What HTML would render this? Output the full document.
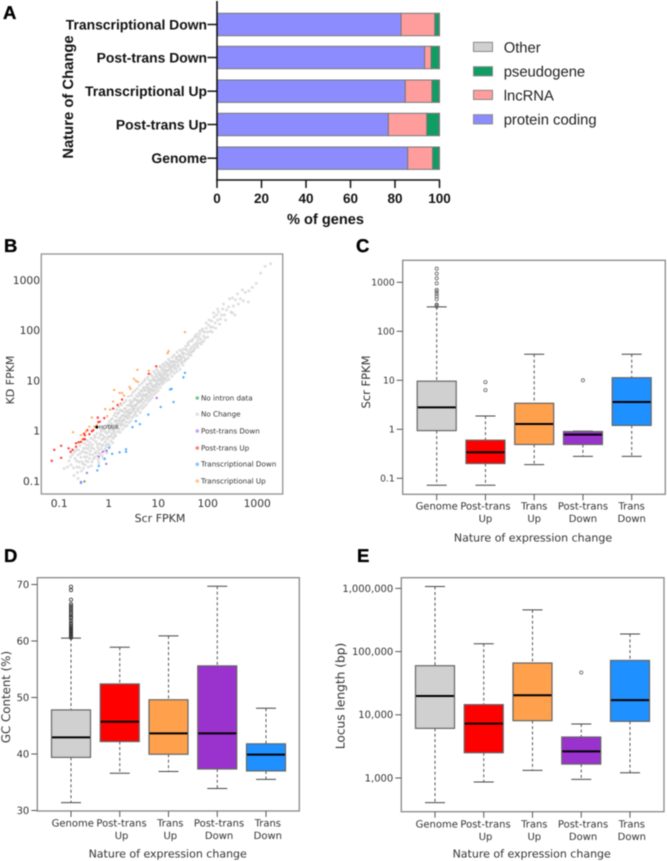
<!DOCTYPE html>
<html lang="en">
<head>
<meta charset="utf-8">
<title>Gene expression change figure</title>
<style>
html,body{margin:0;padding:0;background:#fff;}
body{width:667px;height:861px;overflow:hidden;}
svg{display:block;filter:blur(.4px);text-rendering:geometricPrecision;}
.a{font-family:"Liberation Sans",Arial,sans-serif;font-weight:bold;fill:#111;}
.v{font-family:"DejaVu Sans",Verdana,sans-serif;fill:#333;}
.p{font-family:"Liberation Sans",Arial,sans-serif;font-weight:bold;font-size:18.5px;fill:#000;stroke:#000;stroke-width:.35px;}
</style>
</head>
<body>
<svg id="figure" xmlns="http://www.w3.org/2000/svg" width="667" height="861" viewBox="0 0 667 861">
  <g id="pa"></g>
  <g id="pb"></g>
  <g id="pc"></g>
  <g id="pd"></g>
  <g id="pe"></g>
  <text class="p" x="3" y="19">A</text>
  <text class="p" x="4" y="252">B</text>
  <text class="p" x="356" y="252">C</text>
  <text class="p" x="4" y="562">D</text>
  <text class="p" x="357" y="562">E</text>
</svg>
<script>
/* ---------- Panel A data ---------- */
const aCategories = ['Transcriptional Down','Post-trans Down','Transcriptional Up','Post-trans Up','Genome'];
const aProteinCoding = [82.7,93.3,84.6,77.0,85.7];
const aLncRNA = [15.2,2.9,12.0,17.3,11.2];
const aPseudogene = [1.9,3.6,3.2,5.5,2.9];
const aOther = [0.2,0.2,0.2,0.2,0.2];
const aTicks = [0,20,40,60,80,100];
const aLegendLabels = ['Other','pseudogene','lncRNA','protein coding'];

/* ---------- Panel B data (log10 FPKM, [Scr, KD]) ---------- */
const bXTicks = [0.1,1,10,100,1000];
const bYTicks = [0.1,1,10,100,1000];
const bLegendLabels = ['No intron data','No Change','Post-trans Down','Post-trans Up','Transcriptional Down','Transcriptional Up'];
const bNoChange = [[-.83,-.72],[-.80,-.60],[-.76,-.68],[-.73,-.47],[-.70,-.89],[-.68,-.55],[-.66,-.38],[-.64,-.72],[-.62,-.48],[-.60,-.62],[-.58,-.30],[-.56,-.53],[-.55,-.80],[-.53,-.41],[-.52,-.66],[-.50,-.25],[-.49,-.52],[-.47,-.35],[-.46,-.60],[-.44,-.44],[-.43,-.20],[-.41,-.72],[-.40,-.30],[-.39,-.55],[-.37,-.40],[-.36,-.15],[-.34,-.62],[-.33,-.28],[-.32,-.48],[-.30,-.36],[-.29,-.10],[-.28,-.53],[-.26,-.22],[-.25,-.42],[-.24,-.05],[-.22,-.33],[-.21,-.58],[-.20,-.14],[-.19,-.45],[-.18,-.26],[-.16,-.02],[-.15,-.36],[-.14,-.18],[-.13,-.50],[-.12,-.09],[-.11,-.28],[-.10,.02],[-.09,-.40],[-.08,-.13],[-.07,-.22],[-.06,.07],[-.05,-.32],[-.04,-.05],[-.03,-.17],[-.02,.12],[-.01,-.26],[0,-.02],[.01,.18],[.02,-.12],[.03,.06],[.04,-.2],[.05,.14],[.06,-.05],[.07,.24],[.08,.02],[.09,-.15],[.10,.11],[.11,.3],[.12,-.06],[.13,.18],[.14,-.1],[.15,.05],[.16,.28],[.17,.1],[.18,-.02],[.19,.2],[.20,.36],[.21,.04],[.22,.14],[.23,-.03],[.24,.26],[.25,.1],[.26,.4],[.27,.18],[.28,.03],[.29,.3],[.30,.12],[.31,.22],[.32,.44],[.33,.08],[.34,.28],[.35,.17],[.36,.38],[.37,.1],[.38,.5],[.39,.24],[.40,.33],[.41,.16],[.42,.42],[.43,.28],[.44,.55],[.45,.2],[.46,.36],[.47,.48],[.48,.26],[.49,.4],[.5,.6],[.51,.3],[.52,.45],[.53,.34],[.54,.62],[.55,.38],[.56,.52],[.57,.3],[.58,.44],[.59,.68],[.6,.4],[.61,.56],[.62,.46],[.63,.72],[.64,.36],[.65,.6],[.66,.5],[.67,.78],[.68,.44],[.69,.64],[.7,.55],[.71,.82],[.72,.48],[.73,.7],[.74,.6],[.75,.86],[.76,.52],[.77,.72],[.78,.64],[.79,.9],[.8,.58],[.81,.76],[.82,.68],[.83,.94],[.84,.62],[.85,.82],[.86,.72],[.87,1.0],[.88,.66],[.89,.86],[.9,.78],[.91,1.04],[.92,.72],[.93,.9],[.94,.82],[.95,1.08],[.96,.76],[.97,.96],[.98,.86],[.99,1.12],[1.0,.8],[1.01,1.0],[1.02,.92],[1.03,1.14],[1.04,.86],[1.05,1.05],[1.06,.96],[1.07,1.2],[1.08,.92],[1.09,1.08],[1.1,1.0],[1.11,1.24],[1.12,.96],[1.13,1.14],[1.15,1.04],[1.16,1.28],[1.17,1.0],[1.18,1.18],[1.2,1.1],[1.21,1.32],[1.22,1.02],[1.24,1.22],[1.25,1.14],[1.26,1.36],[1.28,1.08],[1.29,1.26],[1.3,1.18],[1.32,1.38],[1.33,1.14],[1.34,1.3],[1.36,1.24],[1.37,1.46],[1.38,1.18],[1.4,1.36],[1.41,1.28],[1.43,1.5],[1.44,1.22],[1.45,1.4],[1.47,1.34],[1.48,1.56],[1.5,1.3],[1.52,1.46],[1.53,1.38],[1.55,1.62],[1.56,1.42],[1.58,1.52],[1.6,1.44],[1.61,1.7],[1.63,1.5],[1.65,1.62],[1.67,1.56],[1.68,1.78],[1.7,1.58],[1.72,1.7],[1.74,1.64],[1.76,1.86],[1.78,1.7],[1.8,1.8],[1.82,1.74],[1.84,1.92],[1.86,1.82],[1.88,1.76],[1.9,1.98],[1.92,1.88],[1.95,1.84],[1.97,2.04],[2.0,1.96],[2.02,2.1],[2.05,1.98],[2.08,2.18],[2.1,2.06],[2.13,2.26],[2.15,2.14],[2.18,2.3],[2.2,2.2],[2.22,2.36],[2.26,2.22],[2.3,2.42],[2.34,2.3],[2.38,2.4],[2.44,2.62],[2.47,2.36],[2.52,2.48],[2.56,2.6],[2.6,2.72],[2.66,2.62],[2.7,2.8],[2.76,2.75],[2.83,2.78],[2.82,2.56],[2.9,2.85],[2.98,2.93],[3.07,3.13],[3.16,3.27],[3.27,3.32],
[-.77,-.52],[-.71,-.74],[-.69,-.42],[-.65,-.60],[-.63,-.83],[-.61,-.38],[-.59,-.73],[-.57,-.45],[-.54,-.62],[-.51,-.35],[-.51,-.75],[-.48,-.43],[-.48,-.68],[-.45,-.28],[-.45,-.52],[-.42,-.62],[-.42,-.36],[-.38,-.24],[-.38,-.47],[-.35,-.7],[-.35,-.34],[-.31,-.18],[-.31,-.56],[-.27,-.44],[-.27,-.13],[-.23,-.5],[-.23,-.27],[-.2,-.38],[-.2,-.64],[-.17,-.08],[-.17,-.46],[-.14,-.3],[-.14,.02],[-.11,-.55],[-.11,-.16],[-.07,-.37],[-.07,-.02],[-.04,-.28],[-.04,-.44],[-.01,.06],[-.01,-.12],[.02,-.3],[.02,.02],[.05,-.1],[.05,.22],[.08,-.24],[.08,.1],[.11,-.02],[.11,-.12],
[.13,.35],[.14,.2],[.16,.42],[.17,.12],[.19,.34],[.2,.48],[.22,.24],[.23,.41],[.25,.13],[.26,.51],[.28,.39],[.29,.2],[.31,.56],[.32,.3],[.34,.44],[.35,.6],[.37,.27],[.38,.39],[.4,.68],[.41,.5],[.43,.6],[.44,.35],[.46,.7],[.47,.56],[.49,.76],[.5,.42],[.52,.64],[.53,.8],[.55,.5],[.56,.7],[.58,.84],[.59,.55],[.61,.75],[.62,.9],[.64,.58],[.65,.8],[.67,.94],[.68,.62],[.7,.86],[.71,.98],[.73,.8],[.74,1.02],[.76,.68],[.77,.92],[.79,1.06],[.8,.84],[.82,1.0],[.83,.76],[.85,1.12],[.86,.94],[.88,1.08],[.89,.8],[.91,1.18],[.92,1.0],[.94,1.14],[.95,.88],[.97,1.22],[.98,1.06],[1.0,1.18],[1.01,.92],[1.03,1.28],[1.04,1.1],[1.06,1.26],[1.07,1.0],[1.09,1.32],[1.1,1.16],[1.12,1.3],[1.13,1.04],[1.15,1.36],[1.16,1.2],[1.18,1.34],[1.19,1.08],[1.21,1.42],[1.22,1.26],[1.24,1.38],[1.26,1.2],[1.28,1.46],[1.3,1.32],[1.32,1.5],[1.34,1.24],[1.36,1.44],[1.38,1.56],[1.4,1.3],[1.42,1.48],[1.44,1.6],[1.46,1.42],[1.48,1.36],[1.5,1.62],[1.52,1.54],[1.54,1.4],[1.56,1.68],[1.58,1.6],[1.6,1.74],[1.62,1.56],[1.64,1.78],[1.66,1.5],[1.68,1.66],[1.7,1.82],[1.72,1.6],[1.74,1.88],[1.76,1.74],[1.78,1.92],[1.8,1.66],[1.82,1.86],[1.84,1.98],[1.87,1.72],[1.89,2.02],[1.92,1.78],[1.94,1.96],[1.97,2.14],[2.0,1.86],[2.03,2.2],[2.06,2.06],[2.09,1.96],[2.12,2.34],[2.16,2.04],[2.2,2.42],[2.24,2.12],[2.28,2.3],[2.32,2.52],[2.36,2.2],[2.42,2.46],[2.5,2.64],[2.55,2.3],[2.62,2.52],[2.72,2.58],[2.5,2.34],
[.0,.1],[.06,.12],[.1,.02],[.15,.2],[.18,.14],[.23,.2],[.27,.3],[.3,.22],[.33,.36],[.36,.27],[.39,.32],[.42,.36],[.45,.5],[.48,.44],[.51,.5],[.54,.5],[.57,.6],[.6,.6],[.63,.58],[.66,.68],[.69,.72],[.72,.7],[.75,.72],[.78,.8],[.81,.85],[.84,.8],[.87,.9],[.9,.88],[.93,1.0],[.96,.92],[.99,1.0],[1.02,1.02],[1.05,1.12],[1.08,1.04],[1.11,1.1],[1.14,1.2],[1.17,1.12],[1.2,1.2],[1.23,1.3],[1.26,1.28],[1.29,1.38],[1.32,1.3],[1.35,1.36],[1.38,1.42],[1.41,1.4],[1.44,1.48],[1.47,1.46],[1.5,1.52],[-.62,-.95],[-.9,-.75]];
const bPostTransUp = [[-1.15,-.60],[-1.10,-.38],[-.96,-.30],[-.96,-.54],[-.81,-.35],[-.77,-.42],[-.73,-.38],[-.66,-.32],[-.66,-.25],[-.61,-.23],[-.56,-.22],[-.51,-.17],[-.48,-.17],[-.50,-.06],[-.43,.01],[-.34,-.01],[-.31,.01],[-.39,-.07],[-.22,.26],[-.18,.18],[-.21,.17],[-.09,.25],[.09,.44],[.18,.51],[.27,.62],[.81,1.13],[.96,1.28],[-.48,-.09]];
const bTransUp = [[-.72,-.03],[-.56,-.09],[-.53,-.17],[-.58,-.23],[-.46,-.02],[-.39,.08],[-.34,.26],[-.29,.08],[-.24,.11],[-.07,.43],[.03,.42],[.09,.58],[.11,.81],[-.03,.29],[.22,.75],[.27,.75],[.31,.70],[.42,.87],[.44,.83],[.51,1.03],[.55,.99],[.59,.97],[.58,1.21],[.81,1.19],[1.19,1.54],[1.21,1.58],[1.54,1.96],[.24,.54]];
const bTransDown = [[-.56,-1.04],[-.23,-.79],[-.20,-.70],[-.08,-.56],[.01,-.34],[.07,-.46],[.22,-.43],[.35,-.37],[.35,-.42],[.48,.07],[.55,.19],[.63,.13],[.80,.32],[1.05,.47],[1.31,.57],[1.24,.82],[1.27,.83],[1.51,1.06],[1.54,1.15]];
const bPostTransDown = [[-.56,-1.02],[-.44,-.84],[-.20,-.52],[-.12,-.42],[-.04,-.40],[-.05,-.66],[.97,.65]];
const bNoIntron = [[-.49,-1.01]];
const bHotair = [-.24,.07];

/* ---------- Box plot shared categories ---------- */
const boxLine1 = ['Genome','Post-trans','Trans','Post-trans','Trans'];
const boxLine2 = ['','Up','Up','Down','Down'];

/* ---------- Panel C data ---------- */
const cTicks = [0.1,1,10,100,1000];
const cLow = [0.072,0.072,0.19,0.28,0.28];
const cQ1 = [0.94,0.2,0.49,0.49,1.2];
const cMedian = [2.8,0.34,1.28,0.78,3.6];
const cQ3 = [9.6,0.6,3.4,0.9,11.3];
const cHigh = [316,1.87,34,0.92,34];
const cOutliers = [[1900,1500,1200,950,700,650,580,520,450,350,320,340],[9.2,6.3],[],[10],[]];

/* ---------- Panel D data ---------- */
const dTicks = [30,40,50,60,70];
const dLow = [31.4,36.6,36.9,33.9,35.5];
const dQ1 = [39.4,42.2,39.95,37.35,37];
const dMedian = [42.95,45.7,43.66,43.66,39.9];
const dQ3 = [47.8,52.4,49.6,55.6,41.8];
const dHigh = [60.5,58.9,60.9,69.7,48.1];
const dOutliers = [[60.6,60.8,61,61.2,61.4,61.6,61.8,62,62.2,62.4,62.6,62.9,63.2,63.6,64,64.2,64.5,64.8,65,65.3,65.6,65.9,66.2,66.5,67.3,69,69.6],[],[],[],[]];

/* ---------- Panel E data ---------- */
const eTicks = [1000,10000,100000,1000000];
const eTickLabels = ['1,000','10,000','100,000','1,000,000'];
const eLow = [408,865,1320,950,1210];
const eQ1 = [6100,2510,8070,1660,7870];
const eMedian = [19800,7240,20400,2640,17100];
const eQ3 = [59800,14500,66000,4450,72500];
const eHigh = [1070000,133000,457000,7140,190000];
const eOutliers = [[],[],[],[46700],[]];

/* ---------- helpers ---------- */
const NS = 'http://www.w3.org/2000/svg';
function mk(parent, tag, attrs, text) {
  const el = document.createElementNS(NS, tag);
  for (const k in attrs) el.setAttribute(k, attrs[k]);
  if (text !== undefined) el.textContent = text;
  parent.appendChild(el);
  return el;
}

/* ---------- Panel A ---------- */
(function () {
  const g = document.getElementById('pa');
  const xA = v => 217 + 2.225 * v;
  const barTop = [13.3, 46.3, 80, 113.3, 147];
  const barH = 22.4;
  const fills = ['#8c8cff', '#ff9c9c', '#0f9d63', '#d0d0d0'];
  const names = ['protein-coding', 'lncrna', 'pseudogene', 'other'];
  aCategories.forEach((c, i) => {
    const parts = [aProteinCoding[i], aLncRNA[i], aPseudogene[i], aOther[i]];
    let acc = 0;
    parts.forEach((p, j) => {
      const r = mk(g, 'rect', {x: xA(acc), y: barTop[i], width: xA(acc + p) - xA(acc), height: barH, fill: fills[j], stroke: '#777', 'stroke-width': 1});
      
      
      acc += p;
    });
    const t = mk(g, 'line', {x1: 207.5, x2: 217, y1: barTop[i] + barH / 2, y2: barTop[i] + barH / 2, stroke: '#111', 'stroke-width': 1.5});
    
    
    const l = mk(g, 'text', {x: 207, y: barTop[i] + barH / 2 + 4.8, 'text-anchor': 'end', 'font-size': 13.9, class: 'a'}, c);
    
    
  });
  const yAxis = mk(g, 'line', {x1: 217, x2: 217, y1: 1, y2: 180.7, stroke: '#111', 'stroke-width': 1.6});
  
  
  const xAxis = mk(g, 'line', {x1: 216.2, x2: 440, y1: 180, y2: 180, stroke: '#111', 'stroke-width': 1.6});
  
  
  aTicks.forEach(v => {
    const t = mk(g, 'line', {x1: xA(v), x2: xA(v), y1: 180, y2: 188, stroke: '#111', 'stroke-width': 1.5});
    
    
    const l = mk(g, 'text', {x: xA(v), y: 203, 'text-anchor': 'middle', 'font-size': 13.5, class: 'a'}, v);
    
    
  });
  const xt = mk(g, 'text', {x: 325.5, y: 224, 'text-anchor': 'middle', 'font-size': 14.6, class: 'a'}, '% of genes');
  
  
  const yt = mk(g, 'text', {transform: 'translate(73,97) rotate(-90)', 'text-anchor': 'middle', 'font-size': 14.8, class: 'a'}, 'Nature of Change');
  
  
  const legendFill = ['#d0d0d0', '#0f9d63', '#ff9c9c', '#8c8cff'];
  const legendY = [42.3, 66.7, 90.3, 114.7];
  aLegendLabels.forEach((name, i) => {
    const s = mk(g, 'rect', {x: 473.5, y: legendY[i], width: 19, height: 9.2, fill: legendFill[i], stroke: '#888', 'stroke-width': 1});
    
    
    const t = mk(g, 'text', {x: 503.7, y: legendY[i] + 10, 'font-size': 14.8, fill: '#222', 'font-family': '"Liberation Sans",Arial,sans-serif'}, name);
    
    
  });
})();

/* ---------- Panel B ---------- */
(function () {
  const g = document.getElementById('pb');
  const xB = l => 108.7 + 49.5 * l;
  const yB = l => 430.7 - 50.3 * l;
  const f = mk(g, 'rect', {x: 41.3, y: 254, width: 241.4, height: 240, fill: '#fff', stroke: '#999', 'stroke-width': 1.4});
  
  
  function series(pts, color, r, name, op) {
    pts.forEach(p => {
      const c = mk(g, 'circle', {cx: xB(p[0]), cy: yB(p[1]), r: r, fill: color, 'fill-opacity': op});
      
      
    });
  }
  series(bNoChange, '#d6d6d6', 1.5, 'point-no-change', .75);
  series(bTransUp, '#ffab60', 1.2, 'point-transcriptional-up', .95);
  series(bPostTransUp, '#ff3030', 1.2, 'point-post-trans-up', .95);
  series(bTransDown, '#45a8ff', 1.2, 'point-transcriptional-down', .95);
  series(bPostTransDown, '#b070e6', 1.2, 'point-post-trans-down', .95);
  series(bNoIntron, '#55aa66', 1.2, 'point-no-intron-data', .95);
  const h = mk(g, 'circle', {cx: xB(bHotair[0]), cy: yB(bHotair[1]), r: 1.5, fill: '#000'});
  
  
  const hl = mk(g, 'text', {x: xB(bHotair[0]) + 2, y: yB(bHotair[1]) + 1.6, 'font-size': 5.3, class: 'v'}, 'HOTAIR');
  
  
  bXTicks.forEach(v => {
    const t = mk(g, 'text', {x: xB(Math.log10(v)), y: 507, 'text-anchor': 'middle', 'font-size': 10.7, class: 'v'}, v);
    
    
  });
  bYTicks.forEach(v => {
    const t = mk(g, 'text', {x: 40, y: yB(Math.log10(v)) + 4, 'text-anchor': 'end', 'font-size': 10.7, class: 'v'}, v);
    
    
  });
  const xt = mk(g, 'text', {x: 160, y: 522, 'text-anchor': 'middle', 'font-size': 11, class: 'v'}, 'Scr FPKM');
  
  
  const yt = mk(g, 'text', {transform: 'translate(14,380) rotate(-90)', 'text-anchor': 'middle', 'font-size': 11, class: 'v'}, 'KD FPKM');
  
  
  const legendColor = ['#7fc48c', '#e2e2e2', '#c9a0f0', '#ff7d7d', '#8cc6ff', '#ffc48e'];
  const legendY = [398, 414.3, 431, 448, 464.3, 481];
  bLegendLabels.forEach((name, i) => {
    const m = mk(g, 'circle', {cx: 197.3, cy: legendY[i], r: 1.8, fill: legendColor[i]});
    
    
    const t = mk(g, 'text', {x: 201, y: legendY[i] + 2.4, 'font-size': 7.2, class: 'v'}, name);
    
    
  });
})();

/* ---------- Box plots ---------- */
const boxFills = ['#d0d0d0', '#ff0000', '#ffa04d', '#9a32cd', '#1e90ff'];
function boxPanel(cfg) {
  const g = document.getElementById(cfg.id);
  const y = cfg.y;
  const f = mk(g, 'rect', {x: cfg.fx, y: cfg.fy, width: cfg.fw, height: cfg.fh, fill: '#fff', stroke: '#888', 'stroke-width': 1.3});
  
  
  cfg.tickValues.forEach((v, i) => {
    const t = mk(g, 'line', {x1: cfg.fx - 6, x2: cfg.fx, y1: y(v), y2: y(v), stroke: '#555', 'stroke-width': 1});
    
    
    const l = mk(g, 'text', {x: cfg.fx - 8, y: y(v) + 3.4, 'text-anchor': 'end', 'font-size': cfg.tickFont, class: 'v'}, cfg.tickText[i]);
    
    
  });
  boxLine1.forEach((name, i) => {
    const cx = cfg.x0 + 48.75 * i;
    const tick = mk(g, 'line', {x1: cx, x2: cx, y1: cfg.fy + cfg.fh, y2: cfg.fy + cfg.fh + 6, stroke: '#555', 'stroke-width': 1});
    
    
    const w1 = mk(g, 'line', {x1: cx, x2: cx, y1: y(cfg.hi[i]), y2: y(cfg.q3[i]), stroke: '#555', 'stroke-width': 1, 'stroke-dasharray': '3 2.4'});
    
    
    const w2 = mk(g, 'line', {x1: cx, x2: cx, y1: y(cfg.q1[i]), y2: y(cfg.lo[i]), stroke: '#555', 'stroke-width': 1, 'stroke-dasharray': '3 2.4'});
    
    
    const c1 = mk(g, 'line', {x1: cx - 10, x2: cx + 10, y1: y(cfg.hi[i]), y2: y(cfg.hi[i]), stroke: '#444', 'stroke-width': 1});
    
    
    const c2 = mk(g, 'line', {x1: cx - 10, x2: cx + 10, y1: y(cfg.lo[i]), y2: y(cfg.lo[i]), stroke: '#444', 'stroke-width': 1});
    
    
    const b = mk(g, 'rect', {x: cx - 19.5, y: y(cfg.q3[i]), width: 39, height: y(cfg.q1[i]) - y(cfg.q3[i]), fill: boxFills[i], stroke: '#666', 'stroke-width': 1.2});
    
    
    const m = mk(g, 'line', {x1: cx - 19, x2: cx + 19, y1: y(cfg.med[i]), y2: y(cfg.med[i]), stroke: '#000', 'stroke-width': 2});
    
    
    cfg.out[i].forEach(v => {
      const o = mk(g, 'circle', {cx: cx, cy: y(v), r: 1.6, fill: 'none', stroke: cfg.outStroke, 'stroke-width': .8});
      
      
    });
    const l1 = mk(g, 'text', {x: cx + cfg.labelDx, y: cfg.label1, 'text-anchor': 'middle', 'font-size': 10, class: 'v'}, name);
    
    
    if (boxLine2[i]) {
      const l2 = mk(g, 'text', {x: cx + cfg.labelDx, y: cfg.label1 + 12.6, 'text-anchor': 'middle', 'font-size': 10, class: 'v'}, boxLine2[i]);
      
      
    }
  });
  const xt = mk(g, 'text', {x: cfg.xtX, y: cfg.xtY, 'text-anchor': 'middle', 'font-size': 11, class: 'v'}, 'Nature of expression change');
  
  
  const yt = mk(g, 'text', {transform: 'translate(' + cfg.ytX + ',' + cfg.ytY + ') rotate(-90)', 'text-anchor': 'middle', 'font-size': cfg.titleFont, class: 'v'}, cfg.title);
  
  
}

boxPanel({
  id: 'pc', fx: 402.7, fy: 260.3, fw: 262.6, fh: 234,
  y: v => 429.3 - 49 * Math.log10(v),
  tickValues: cTicks, tickText: cTicks, tickFont: 9.2,
  x0: 436.7, labelDx: 0, label1: 509.5,
  lo: cLow, q1: cQ1, med: cMedian, q3: cQ3, hi: cHigh, out: cOutliers, outStroke: '#666',
  xtX: 533, xtY: 541.5, ytX: 370, ytY: 382, title: 'Scr FPKM', titleFont: 11.5
});
boxPanel({
  id: 'pd', fx: 37.3, fy: 577.7, fw: 262, fh: 233.3,
  y: v => 754 - 5.65 * (v - 40),
  tickValues: dTicks, tickText: dTicks, tickFont: 10,
  x0: 71, labelDx: 1.8, label1: 826.5,
  lo: dLow, q1: dQ1, med: dMedian, q3: dQ3, hi: dHigh, out: dOutliers, outStroke: '#333',
  xtX: 167.7, xtY: 857.5, ytX: 10, ytY: 697, title: 'GC Content (%)', titleFont: 11.8
});
boxPanel({
  id: 'pe', fx: 401.3, fy: 577.7, fw: 262.7, fh: 234,
  y: v => 778 - 63.2 * (Math.log10(v) - 3),
  tickValues: eTicks, tickText: eTickLabels, tickFont: 10,
  x0: 435, labelDx: 1.8, label1: 827.5,
  lo: eLow, q1: eQ1, med: eMedian, q3: eQ3, hi: eHigh, out: eOutliers, outStroke: '#666',
  xtX: 531.7, xtY: 857.5, ytX: 344.5, ytY: 696, title: 'Locus length (bp)', titleFont: 12.2
});
</script>
</body>
</html>
